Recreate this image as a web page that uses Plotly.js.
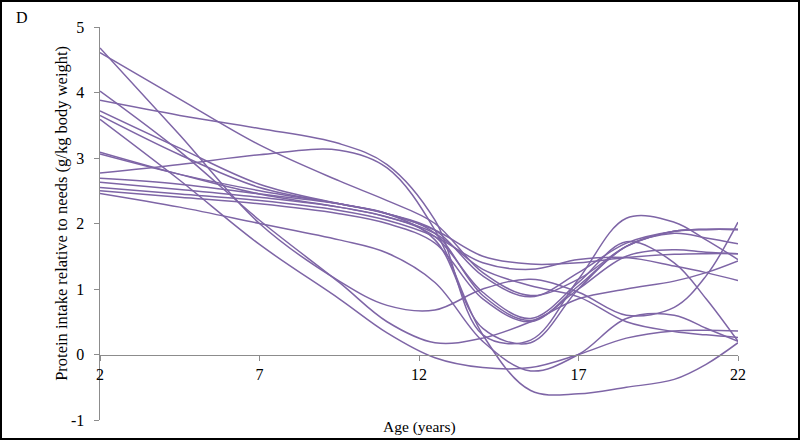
<!DOCTYPE html>
<html>
<head>
<meta charset="utf-8">
<script src="https://cdn.plot.ly/plotly-3.0.1.min.js"></script>
<style>
  html, body { margin: 0; padding: 0; background: #fff; }
  #frame { width: 800px; height: 440px; box-sizing: border-box; border: 2px solid #000; overflow: hidden; }
  #chart { width: 796px; height: 436px; }
</style>
</head>
<body>
<div id="frame"><div id="chart"></div></div>
<script>
// Ages at which each trajectory is read
const ages = [2, 4.5, 7, 9.5, 11, 12.5, 14, 15.5, 17, 18.5, 20, 21, 22];

// Protein intake relative to needs (g/kg body weight), one array per child
const s1  = [4.68, 3.35, 2.00, 1.12, 0.75, 0.68, 1.00, 1.15, 0.95, 0.60, 0.72, 1.20, 2.02];
const s2  = [4.61, 3.90, 3.20, 2.65, 2.35, 2.00, 1.25, 0.90, 1.15, 1.65, 1.88, 1.91, 1.91];
const s3  = [4.02, 3.10, 2.05, 1.10, 0.50, 0.18, 0.25, 0.50, 0.85, 1.00, 1.12, 1.25, 1.43];
const s4  = [3.88, 3.65, 3.45, 3.22, 2.90, 2.05, 0.30, 0.22, 1.15, 2.08, 2.02, 1.75, 1.45];
const s5  = [3.72, 3.15, 2.60, 2.30, 2.15, 1.75, 0.40, 0.18, 1.00, 1.65, 1.88, 1.91, 1.91];
const s6  = [3.65, 3.05, 2.55, 2.30, 2.15, 1.85, 0.90, 0.52, 1.00, 1.50, 1.60, 1.56, 1.54];
const s7  = [3.59, 2.66, 1.68, 0.85, 0.33, -0.05, -0.20, -0.20, 0.00, 0.25, 0.36, 0.37, 0.36];
const s8  = [3.09, 2.75, 2.45, 2.25, 2.10, 1.80, 0.95, 0.55, 1.10, 1.72, 1.40, 0.85, 0.20];
const s9  = [3.06, 2.75, 2.50, 2.30, 2.15, 1.90, 1.20, 0.88, 1.25, 1.70, 1.88, 1.91, 1.91];
const s10 = [2.77, 2.90, 3.05, 3.12, 2.85, 1.90, 0.30, -0.55, -0.60, -0.50, -0.38, -0.15, 0.18];
const s11 = [2.69, 2.60, 2.45, 2.30, 2.15, 1.90, 1.50, 1.38, 1.40, 1.48, 1.53, 1.54, 1.54];
const s12 = [2.63, 2.52, 2.40, 2.25, 2.10, 1.85, 1.30, 1.05, 0.88, 0.50, 0.35, 0.30, 0.26];
const s13 = [2.55, 2.45, 2.35, 2.20, 2.05, 1.80, 1.40, 1.30, 1.45, 1.48, 1.35, 1.25, 1.13];
const s14 = [2.50, 2.40, 2.30, 2.15, 2.00, 1.70, 0.85, 0.50, 1.05, 1.65, 1.85, 1.78, 1.69];
const s15 = [2.46, 2.25, 2.00, 1.75, 1.55, 1.10, 0.20, -0.25, 0.00, 0.55, 0.60, 0.40, 0.20];

const series = [s1, s2, s3, s4, s5, s6, s7, s8, s9, s10, s11, s12, s13, s14, s15];

const xTicks = [2, 7, 12, 17, 22];
const yTicks = [-1, 0, 1, 2, 3, 4, 5];

const panelLabel = 'D';
const xTitle = 'Age (years)';
const yTitle = 'Protein intake relative to needs (g/kg body weight)';

const lineColor = '#7E65A6';
const axisColor = '#8C8C8C';
const serif = '"Liberation Serif", "Times New Roman", serif';

const traces = series.map(function (vals) {
  return {
    x: ages, y: vals, type: 'scatter', mode: 'lines',
    line: { color: lineColor, width: 1.5, shape: 'spline', smoothing: 1 },
    hoverinfo: 'skip', showlegend: false
  };
});

const layout = {
  width: 796, height: 436,
  margin: { l: 98, r: 60, t: 25, b: 18 },
  paper_bgcolor: '#fff', plot_bgcolor: '#fff',
  font: { family: serif, size: 15, color: '#000' },
  showlegend: false,
  xaxis: {
    range: [2, 22], tickvals: xTicks, ticktext: xTicks.map(String),
    showline: true, linecolor: axisColor, linewidth: 1,
    ticks: 'outside', ticklen: 5, tickcolor: axisColor,
    showgrid: false, zeroline: false,
    anchor: 'free', position: 1 / 6,
    tickfont: { family: serif, size: 16, color: '#000' }
  },
  yaxis: {
    range: [-1, 5], tickvals: yTicks, ticktext: yTicks.map(String),
    showline: true, linecolor: axisColor, linewidth: 1.5,
    ticks: 'outside', ticklen: 5, tickcolor: axisColor,
    ticklabelstandoff: 6,
    showgrid: false, zeroline: false,
    tickfont: { family: serif, size: 16, color: '#000' }
  },
  annotations: [
    { text: panelLabel, xref: 'paper', yref: 'paper', x: -0.1223, y: 1.0254,
      xanchor: 'center', yanchor: 'middle', showarrow: false,
      font: { family: serif, size: 16, color: '#000' } },
    { text: xTitle, xref: 'paper', yref: 'paper', x: 0.5, y: -0.017,
      xanchor: 'center', yanchor: 'middle', showarrow: false,
      font: { family: serif, size: 15.5, color: '#000' } },
    { text: yTitle, xref: 'paper', yref: 'paper', x: -0.0596, y: 0.527,
      xanchor: 'center', yanchor: 'middle', textangle: -90, showarrow: false,
      font: { family: serif, size: 16.5, color: '#000' } }
  ]
};

Plotly.newPlot('chart', traces, layout, { staticPlot: true, displayModeBar: false });
</script>
</body>
</html>
